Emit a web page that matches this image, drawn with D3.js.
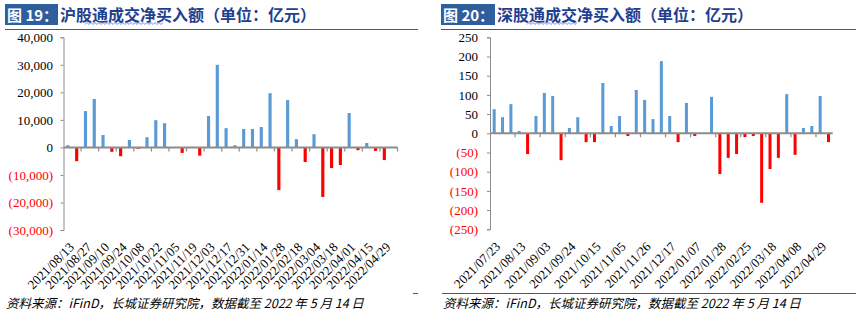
<!DOCTYPE html>
<html>
<head>
<meta charset="utf-8">
<script src="https://cdn.jsdelivr.net/npm/d3@7"></script>
<style>
  body { margin: 0; background: #fff; }
  svg { display: block; }
</style>
</head>
<body>
<script>
'use strict';

// 沪股通 weekly net buy (亿元)
const hgtDates = ["2021/08/13", "2021/08/20", "2021/08/27", "2021/09/03", "2021/09/10", "2021/09/17",
    "2021/09/24", "2021/10/01", "2021/10/08", "2021/10/15", "2021/10/22", "2021/10/29", "2021/11/05",
    "2021/11/12", "2021/11/19", "2021/11/26", "2021/12/03", "2021/12/10", "2021/12/17", "2021/12/24",
    "2021/12/31", "2022/01/07", "2022/01/14", "2022/01/21", "2022/01/28", "2022/02/11", "2022/02/18",
    "2022/02/25", "2022/03/04", "2022/03/11", "2022/03/18", "2022/03/25", "2022/04/01", "2022/04/08",
    "2022/04/15", "2022/04/22", "2022/04/29", "2022/05/06"];
const hgtValues = [800, -5000, 13200, 17600, 4500, -1600, -3200, 2700, -500, 3700, 9900, 8800, 0,
    -2000, 0, -3000, 11400, 30000, 7000, 800, 6700, 6700, 7400, 19700, -15500, 17200, 3000,
    -5300, 4800, -18000, -7500, -6400, 12500, -1000, 1600, -1300, -4600, 0];
const hgtTicks = [-30000, -20000, -10000, 0, 10000, 20000, 30000, 40000];

// 深股通 weekly net buy (亿元)
const sgtDates = ["2021/07/23", "2021/07/30", "2021/08/06", "2021/08/13", "2021/08/20", "2021/08/27",
    "2021/09/03", "2021/09/10", "2021/09/17", "2021/09/24", "2021/10/01", "2021/10/08", "2021/10/15",
    "2021/10/22", "2021/10/29", "2021/11/05", "2021/11/12", "2021/11/19", "2021/11/26", "2021/12/03",
    "2021/12/10", "2021/12/17", "2021/12/24", "2021/12/31", "2022/01/07", "2022/01/14", "2022/01/21",
    "2022/01/28", "2022/02/11", "2022/02/18", "2022/02/25", "2022/03/04", "2022/03/11", "2022/03/18",
    "2022/03/25", "2022/04/01", "2022/04/08", "2022/04/15", "2022/04/22", "2022/04/29", "2022/05/06"];
const sgtValues = [63, 42, 76, 6, -54, 45, 105, 97, -70, 14, 42, -23, -23, 131, 19, 45, -7, 113, 87,
    37, 188, 45, -23, 79, -7, 0, 95, -106, -64, -54, -10, -7, -181, -93, -64, 102, -56, 14, 19, 97, -23];
const sgtTicks = [-250, -200, -150, -100, -50, 0, 50, 100, 150, 200, 250];

const sourceNote = "资料来源：iFinD，长城证券研究院，数据截至 2022 年 5 月 14 日";

(function() {

    let svg = ""

    const colors = {
        pos: "#5b9bd5",
        neg: "#ff0000",
        axis: "#8c8c8c",
        title: "#1f3f8f",
        box: "#2e5e9c"
    }

    window.onload = function() {
        svg = d3.select("body").append("svg")
            .attr("width", 860)
            .attr("height", 325);

        drawPanel({
            left: 0, boxX: 5, boxW: 53, ruleX1: 5, ruleX2: 418,
            tag: "图 19：", title: "沪股通成交净买入额（单位：亿元）",
            wave: [85, 163],
            dates: hgtDates, values: hgtValues, ticks: hgtTicks,
            x0: 63.5, x1: 397.5, yTop: 37.3, yBottom: 230,
            domain: [-30000, 40000], labelEvery: 2, labelX: 53,
            footLine: [413, 418], noteX: 6
        });

        drawPanel({
            left: 430, boxX: 441, boxW: 54, ruleX1: 441, ruleX2: 856,
            tag: "图 20：", title: "深股通成交净买入额（单位：亿元）",
            wave: [527, 578],
            dates: sgtDates, values: sgtValues, ticks: sgtTicks,
            x0: 490, x1: 832.7, yTop: 37.3, yBottom: 229.3,
            domain: [-250, 250], labelEvery: 3, labelX: 478,
            footLine: [442, 856], noteX: 443
        });
    }

    function drawPanel(p) {
        let g = svg.append("g");

        // title block
        g.append("rect")
            .attr("x", p.boxX)
            .attr("y", 4)
            .attr("width", p.boxW)
            .attr("height", 21)
            .attr("fill", colors.box);

        g.append("text")
            .attr("x", p.boxX + 2)
            .attr("y", 20.5)
            .attr("fill", "#fff")
            .attr("font-family", "'Noto Sans CJK SC'")
            .attr("font-weight", "bold")
            .attr("font-size", "15px")
            .text(p.tag);

        g.append("text")
            .attr("x", p.boxX + p.boxW + 2)
            .attr("y", 20.5)
            .attr("fill", colors.title)
            .attr("font-family", "'Noto Sans CJK SC'")
            .attr("font-weight", "bold")
            .attr("font-size", "16px")
            .text(p.title);

        // squiggle under part of the title
        let wave = d3.range(p.wave[0], p.wave[1] + 0.1, 2)
            .map((x, i) => [x, i % 2 ? 22.5 : 24.5]);
        g.append("path")
            .attr("d", d3.line()(wave))
            .attr("fill", "none")
            .attr("stroke", "#4a6fd8")
            .attr("stroke-width", 0.8);

        g.append("line")
            .attr("x1", p.ruleX1)
            .attr("x2", p.ruleX2)
            .attr("y1", 29.5)
            .attr("y2", 29.5)
            .attr("stroke", colors.box)
            .attr("stroke-width", 1.2);

        // scales
        let x = d3.scaleBand()
            .domain(p.dates)
            .range([p.x0, p.x1])
            .paddingInner(0.64)
            .paddingOuter(0.32);

        let y = d3.scaleLinear()
            .domain(p.domain)
            .range([p.yBottom, p.yTop]);

        let fmt = d3.format(",");

        // y axis
        let yAxis = d3.axisLeft(y)
            .tickValues(p.ticks)
            .tickSize(3)
            .tickFormat(d => d < 0 ? "(" + fmt(-d) + ")" : fmt(d));

        let ya = g.append("g")
            .attr("transform", "translate(" + p.x0 + ",0)")
            .call(yAxis);
        ya.select(".domain").attr("stroke", colors.axis);
        ya.selectAll(".tick line").attr("stroke", colors.axis);
        ya.selectAll(".tick text")
            .attr("x", p.labelX - p.x0)
            .attr("font-family", "'Liberation Serif'")
            .attr("font-size", "13px")
            .attr("fill", d => d < 0 ? colors.neg : "#000");

        // bars
        g.append("g").selectAll("rect")
            .data(p.values)
            .enter()
            .append("rect")
            .attr("x", (d, i) => x(p.dates[i]))
            .attr("width", x.bandwidth())
            .attr("y", d => y(Math.max(0, d)))
            .attr("height", d => Math.abs(y(d) - y(0)))
            .attr("fill", d => d < 0 ? colors.neg : colors.pos);

        // category axis at zero
        let step = x.step();
        let y0 = y(0);
        g.append("line")
            .attr("x1", p.x0)
            .attr("x2", p.x1)
            .attr("y1", y0)
            .attr("y2", y0)
            .attr("stroke", colors.axis)
            .attr("stroke-width", 2);

        let bounds = d3.range(p.labelEvery, p.dates.length + 1, p.labelEvery);
        g.append("g").selectAll("line")
            .data(bounds)
            .enter()
            .append("line")
            .attr("x1", k => p.x0 + k * step)
            .attr("x2", k => p.x0 + k * step)
            .attr("y1", y0)
            .attr("y2", y0 + 4)
            .attr("stroke", colors.axis)
            .attr("stroke-width", 1.2);

        // rotated date labels along the bottom
        let shown = p.dates.filter((d, i) => i % p.labelEvery === 0);
        g.append("g").selectAll("text")
            .data(shown)
            .enter()
            .append("text")
            .attr("transform", d => "translate(" + (x(d) + x.bandwidth() / 2 + 7) + "," + (p.yBottom + 18) + ") rotate(-45)")
            .attr("text-anchor", "end")
            .attr("font-family", "'Liberation Serif'")
            .attr("font-size", "13px")
            .attr("fill", "#000")
            .text(d => d);

        // source line
        g.append("line")
            .attr("x1", p.footLine[0])
            .attr("x2", p.footLine[1])
            .attr("y1", 293.5)
            .attr("y2", 293.5)
            .attr("stroke", colors.box)
            .attr("stroke-width", 1);

        g.append("text")
            .attr("x", p.noteX)
            .attr("y", 308)
            .attr("font-family", "'Noto Sans CJK SC'")
            .attr("font-style", "italic")
            .attr("font-size", "12.5px")
            .attr("fill", "#000")
            .text(sourceNote);
    }
})()
</script>
</body>
</html>
